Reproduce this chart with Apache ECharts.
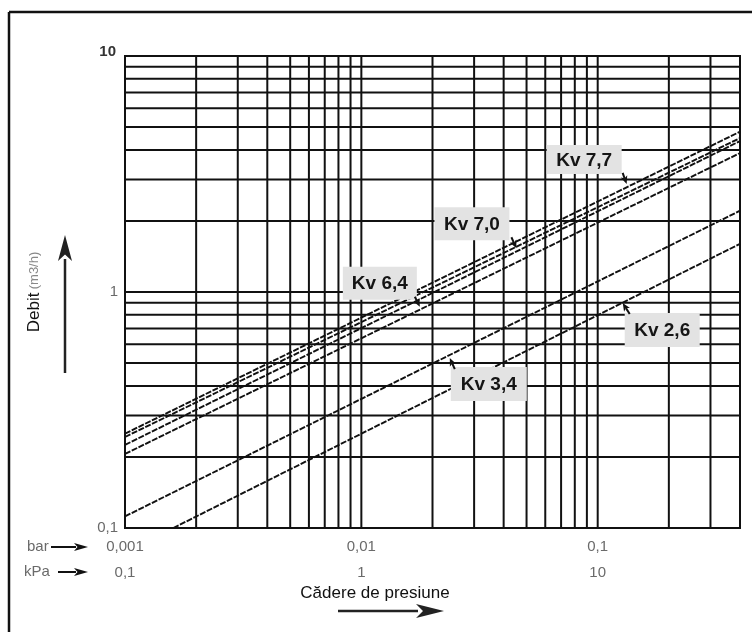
<!DOCTYPE html>
<html>
<head>
<meta charset="utf-8">
<script src="https://cdn.jsdelivr.net/npm/echarts@6/dist/echarts.min.js"></script>
<style>
html,body{margin:0;padding:0;background:#fff;}
#c{width:752px;height:632px;}
</style>
</head>
<body>
<div id="c"></div>
<script>
// ---- data ----
const xTickBar = ['0,001', '0,01', '0,1'];
const xTickKpa = ['0,1', '1', '10'];
const yTickLabels = ['0,1', '1', '10'];
const xGridValues = [0.002,0.003,0.004,0.005,0.006,0.007,0.008,0.009,0.01,
                     0.02,0.03,0.04,0.05,0.06,0.07,0.08,0.09,0.1,0.2,0.3];
const yGridValues = [0.2,0.3,0.4,0.5,0.6,0.7,0.8,0.9,1,2,3,4,5,6,7,8,9];
const xMin = 0.001, xMax = 0.4, yMin = 0.1, yMax = 10;
// Kv lines: start/end points (bar, m3/h)
const lineStartX = [0.001, 0.001, 0.001, 0.001, 0.001, 0.0016];
const lineStartY = [0.251, 0.243, 0.225, 0.206, 0.112, 0.1];
const lineEndX   = [0.4, 0.4, 0.4, 0.4, 0.4, 0.4];
const lineEndY   = [4.78, 4.49, 4.36, 3.88, 2.21, 1.60];
// Labels and the point on the chart each one points at
const kvLabels = ['Kv 7,7', 'Kv 7,0', 'Kv 6,4', 'Kv 3,4', 'Kv 2,6'];
const kvTipX = [0.1326, 0.0453, 0.01768, 0.02367, 0.1276];
const kvTipY = [2.87, 1.532, 0.866, 0.525, 0.898];

// ---- layout (pixel offsets of label boxes relative to arrow tip) ----
const kvLayout = [
  {bx:-80, by:-39, bw:75, bh:29, tx:-4, ty:-11},
  {bx:-82, by:-41, bw:75, bh:33, tx:-5, ty:-11},
  {bx:-77, by:-40, bw:74, bh:33, tx:-5, ty:-10},
  {bx:1,   by:9,   bw:76, bh:34, tx:5,  ty:11},
  {bx:2,   by:10,  bw:75, bh:34, tx:7,  ty:11}
];

const chart = echarts.init(document.getElementById('c'), null, {renderer:'canvas'});

const gridStyle = {color:'#111', width:2, type:'solid'};
const gridSeries = []
  .concat(xGridValues.map(v => ({
    type:'line', data:[[v, yMin],[v, yMax]], symbol:'none', silent:true, z:2, lineStyle:gridStyle
  })))
  .concat(yGridValues.map(v => ({
    type:'line', data:[[xMin, v],[xMax, v]], symbol:'none', silent:true, z:2, lineStyle:gridStyle
  })));

const lineSeries = lineStartX.map((sx, i) => ({
  type: 'line',
  data: [[sx, lineStartY[i]], [lineEndX[i], lineEndY[i]]],
  symbol: 'none',
  silent: true,
  z: 3,
  lineStyle: {color:'#111', width:1.9, type:[6,1.5]}
}));

const baseFont = 'Liberation Sans, Arial, sans-serif';

chart.setOption({
  animation: false,
  backgroundColor: '#fff',
  grid: {left:125, right:12, top:56, bottom:104, show:true, borderColor:'#111', borderWidth:2},
  xAxis: {
    type: 'log', logBase: 10, min: xMin, max: xMax,
    axisLine: {show:false}, axisTick: {show:false}, splitLine: {show:false},
    axisLabel: {
      margin: 6, lineHeight: 26, fontSize: 15, color: '#6a6a6a', fontFamily: baseFont,
      showMaxLabel: false,
      formatter: function (v) {
        const l = Math.log10(v), e = Math.round(l);
        if (Math.abs(l - e) > 1e-6) return '';
        const i = e + 3;
        if (i < 0 || i > 2) return '';
        return xTickBar[i] + '\n' + xTickKpa[i];
      }
    }
  },
  yAxis: {
    type: 'log', logBase: 10, min: yMin, max: yMax,
    axisLine: {show:false}, axisTick: {show:false}, splitLine: {show:false},
    name: '{a|Debit} {b|(m3/h)}',
    nameLocation: 'middle', nameRotate: 90, nameGap: 82,
    nameTextStyle: {
      rich: {
        a: {fontSize:17, color:'#111', fontFamily: baseFont},
        b: {fontSize:13, color:'#888', fontFamily: baseFont}
      }
    },
    axisLabel: {
      margin: 7, fontSize: 15, fontFamily: baseFont,
      formatter: function (v) {
        const l = Math.log10(v), e = Math.round(l);
        if (Math.abs(l - e) > 1e-6) return '';
        const i = e + 1;
        if (i < 0 || i > 2) return '';
        return i === 2 ? '{b|' + yTickLabels[i] + '}' : '{n|' + yTickLabels[i] + '}';
      },
      rich: {
        n: {fontSize:15, color:'#6a6a6a', fontFamily: baseFont},
        b: {fontSize:15, color:'#333', fontWeight:'bold', fontFamily: baseFont, padding:[0,2,8,0]}
      }
    }
  },
  series: gridSeries.concat(lineSeries)
});

function arrow(x1, y1, x2, y2, headLen, headHalf, width, color) {
  const dx = x2 - x1, dy = y2 - y1, len = Math.sqrt(dx*dx + dy*dy);
  const ux = dx/len, uy = dy/len, px = -uy, py = ux;
  const bx = x2 - ux*headLen, by = y2 - uy*headLen;
  return [
    {type:'line', silent:true, z:20, shape:{x1:x1, y1:y1, x2:bx + ux*2, y2:by + uy*2},
     style:{stroke:color, lineWidth:width}},
    {type:'polygon', silent:true, z:20,
     shape:{points:[[x2,y2],[bx + px*headHalf, by + py*headHalf],[bx + ux*headLen*0.25, by + uy*headLen*0.25],[bx - px*headHalf, by - py*headHalf]]},
     style:{fill:color}}
  ];
}

const g = [];
// outer frame (left and top edges)
g.push({type:'line', silent:true, shape:{x1:9, y1:12, x2:9, y2:632}, style:{stroke:'#111', lineWidth:2.5}});
g.push({type:'line', silent:true, shape:{x1:9, y1:12, x2:752, y2:12}, style:{stroke:'#111', lineWidth:2.5}});

// Kv labels
kvLabels.forEach((t, i) => {
  const p = chart.convertToPixel({gridIndex:0}, [kvTipX[i], kvTipY[i]]);
  const L = kvLayout[i];
  g.push({type:'rect', silent:true, z:15,
    shape:{x:p[0] + L.bx, y:p[1] + L.by, width:L.bw, height:L.bh},
    style:{fill:'#e3e3e3'}});
  g.push({type:'text', silent:true, z:16,
    x:p[0] + L.bx + L.bw/2, y:p[1] + L.by + L.bh/2 + 1,
    style:{text:t, fill:'#151515', font:'bold 19px ' + baseFont, align:'center', verticalAlign:'middle'}});
  arrow(p[0] + L.tx, p[1] + L.ty, p[0], p[1], 8, 3.5, 2, '#111').forEach(e => g.push(e));
});

// bar / kPa row markers
g.push({type:'text', silent:true, x:27, y:547, style:{text:'bar', fill:'#6a6a6a', font:'15px ' + baseFont, verticalAlign:'middle'}});
g.push({type:'text', silent:true, x:24, y:572, style:{text:'kPa', fill:'#6a6a6a', font:'15px ' + baseFont, verticalAlign:'middle'}});
arrow(51, 547, 88, 547, 14, 4, 2, '#111').forEach(e => g.push(e));
arrow(58, 572, 88, 572, 14, 4, 2, '#111').forEach(e => g.push(e));

// x axis title and arrow
g.push({type:'text', silent:true, x:375, y:593,
  style:{text:'Cădere de presiune', fill:'#111', font:'17px ' + baseFont, align:'center', verticalAlign:'middle'}});
arrow(338, 611, 444, 611, 28, 7, 2.5, '#222').forEach(e => g.push(e));

// y axis arrow
arrow(65, 373, 65, 235, 26, 7, 2.5, '#222').forEach(e => g.push(e));

chart.setOption({graphic: g});
</script>
</body>
</html>
